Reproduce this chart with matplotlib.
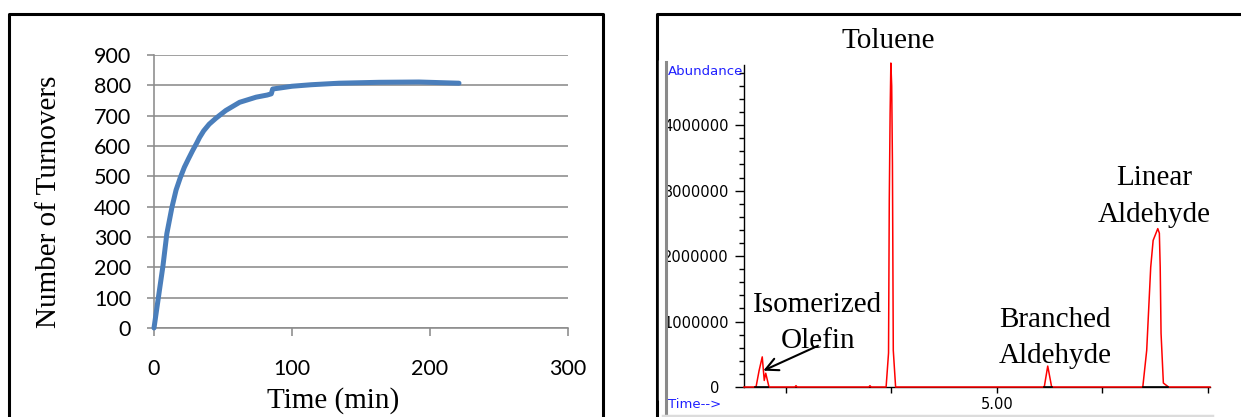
import matplotlib
matplotlib.use("Agg")
import matplotlib.pyplot as plt
from matplotlib.patches import Rectangle
from matplotlib.transforms import ScaledTranslation

# ---------------- data ----------------
# Left: turnovers vs time
time_min = [0, 3, 6.5, 9.3, 13, 16, 19, 22, 25, 28, 31, 33, 36, 40, 45, 52, 62,
            74, 82, 85, 86, 91, 100, 114, 134, 163, 192, 221]
turnovers = [0, 95, 205, 311, 398, 455, 495, 530, 558, 585, 610, 628, 650, 672,
             692, 717, 744, 761, 768, 772, 788, 791, 797, 802, 807, 810, 811, 807]
left_xticks = [0, 100, 200, 300]
left_yticks = [0, 100, 200, 300, 400, 500, 600, 700, 800, 900]

# Right: chromatogram trace
rt = [2.602, 2.716, 2.745, 2.775, 2.794, 2.808, 2.839, 3.085, 3.095, 3.105,
      3.785, 3.796, 3.807, 3.949, 3.972, 3.979, 3.987, 3.994, 4.002, 4.009,
      4.017, 4.039, 5.448, 5.481, 5.518, 6.382, 6.419, 6.442, 6.457, 6.480,
      6.524, 6.539, 6.547, 6.555, 6.577, 6.626, 7.019]
abundance = [0, 0, 0.25e6, 0.46e6, 0.10e6, 0.21e6, 0, 0, 0.02e6, 0,
             0, 0.02e6, 0, 0, 0.52e6, 2.85e6, 4.18e6, 4.95e6, 4.60e6, 3.42e6,
             0.56e6, 0, 0, 0.32e6, 0, 0, 0.56e6, 1.33e6, 1.83e6, 2.24e6,
             2.42e6, 2.35e6, 1.83e6, 0.82e6, 0.06e6, 0, 0]
# integration baselines (start, end)
integ_start = [2.706, 5.448, 6.384]
integ_end = [2.826, 5.520, 6.620]
right_yticks = [0, 1000000, 2000000, 3000000, 4000000]
right_ytick_labels = ["0", "1000000", "2000000", "3000000", "4000000"]
right_xticks = [3, 4, 5, 6, 7]
right_xtick_labels = ["", "", "5.00", "", ""]

# ---------------- figure ----------------
W, H = 1241, 417
fig = plt.figure(figsize=(W / 100, H / 100), dpi=100)

def rect(x0, y0, x1, y1):
    return [x0 / W, 1 - y1 / H, (x1 - x0) / W, (y1 - y0) / H]

PX = 72 / 100  # points per pixel
serif = "Liberation Serif"

# ----- left panel -----
ax1 = fig.add_axes(rect(154, 55, 568, 328))
grid_c = "#8c8c8c"
ax1.plot(time_min, turnovers, color="#4a7ebb", lw=5 * PX, solid_capstyle="round",
         zorder=3, clip_on=False)
ax1.set_xlim(0, 300)
ax1.set_ylim(0, 900)
ax1.set_xticks(left_xticks)
ax1.set_yticks(left_yticks)
ax1.yaxis.grid(True, color=grid_c, lw=1.6 * PX)
ax1.set_axisbelow(True)
for s in ["top", "right"]:
    ax1.spines[s].set_visible(False)
for s in ["left", "bottom"]:
    ax1.spines[s].set_color(grid_c)
    ax1.spines[s].set_linewidth(1.6 * PX)
ax1.tick_params(axis="y", direction="out", length=7 * PX, width=1.6 * PX,
                color=grid_c, pad=16 * PX, labelsize=15.5)
ax1.tick_params(axis="x", direction="out", length=8 * PX, width=1.6 * PX,
                color=grid_c, pad=23 * PX, labelsize=15.5)
for lab in ax1.get_xticklabels() + ax1.get_yticklabels():
    lab.set_fontfamily("Lato")

# ----- right panel -----
ax2 = fig.add_axes(rect(744, 65, 1210, 387))
ax2.plot(rt, abundance, color="#ff0000", lw=1.1, zorder=3, clip_on=False)
for a, b in zip(integ_start, integ_end):
    ax2.plot([a, b], [0, 0], color="black", lw=1.2, zorder=4, clip_on=False)
ax2.set_xlim(2.602, 7.019)
ax2.set_ylim(0, 4.92e6)
ax2.set_yticks(right_yticks)
ax2.set_yticklabels(right_ytick_labels)
ax2.set_yticks([i * 200000 for i in range(25)], minor=True)
ax2.set_xticks(right_xticks)
ax2.set_xticklabels(right_xtick_labels)
for s in ["top", "right"]:
    ax2.spines[s].set_visible(False)
for s in ["left", "bottom"]:
    ax2.spines[s].set_linewidth(1.0)
ax2.tick_params(axis="y", which="major", direction="out", length=9 * PX, width=1.0,
                pad=6 * PX, labelsize=10.5)
ax2.tick_params(axis="y", which="minor", direction="out", length=5 * PX, width=1.0)
ax2.tick_params(axis="x", which="major", direction="out", length=6 * PX, width=1.0,
                pad=4 * PX, labelsize=10.5)
ylabs = ax2.get_yticklabels()
ylabs[0].set_transform(ylabs[0].get_transform() +
                       ScaledTranslation(-10 / 100, 0, fig.dpi_scale_trans))

ax2.annotate("", xy=(2.785, 0.25e6), xytext=(3.303, 0.63e6),
             arrowprops=dict(arrowstyle="->,head_length=0.9,head_width=0.45",
                             color="black", lw=1.5, shrinkA=0, shrinkB=0))

# ----- overlay in pixel coordinates -----
ov = fig.add_axes([0, 0, 1, 1])
ov.set_xlim(0, W)
ov.set_ylim(H, 0)
ov.axis("off")
ov.set_zorder(10)
ov.patch.set_visible(False)

# box borders
ov.plot([9, 9, 603, 603], [H + 2, 14, 14, H + 2], color="black", lw=2.2)
ov.plot([657, 657, W + 2], [H + 2, 14, 14], color="black", lw=2.2)
# hide clipped part of labels and draw window frame
ov.add_patch(Rectangle((659, 60), 6, 340, color="white", zorder=5))
ov.plot([665.5, 665.5], [62, H + 2], color="#8a8a8a", lw=2.2, zorder=6)
ov.plot([663, 1212], [415.5, 415.5], color="#dcdcdc", lw=2.5, zorder=6)

# left labels
ov.text(49, 202, "Number of Turnovers", rotation=90, ha="center", va="center",
        fontsize=21, family=serif)
ov.text(333, 408, "Time (min)", ha="center", va="baseline", fontsize=21, family=serif)

# right labels
ov.text(668, 71, "Abundance", ha="left", va="center", fontsize=9.5,
        color="#2020ff", family="DejaVu Sans")
ov.text(668, 404, "Time-->", ha="left", va="center", fontsize=9.5,
        color="#2020ff", family="DejaVu Sans")
ov.text(888, 48, "Toluene", ha="center", va="baseline", fontsize=21, family=serif)
ov.text(818, 312, "Isomerized", ha="center", va="baseline", fontsize=21, family=serif)
ov.text(818, 348, "Olefin", ha="center", va="baseline", fontsize=21, family=serif)
ov.text(1055, 327, "Branched", ha="center", va="baseline", fontsize=21, family=serif)
ov.text(1055, 363, "Aldehyde", ha="center", va="baseline", fontsize=21, family=serif)
ov.text(1154, 185, "Linear", ha="center", va="baseline", fontsize=21, family=serif)
ov.text(1154, 222, "Aldehyde", ha="center", va="baseline", fontsize=21, family=serif)

fig.savefig("out.png", dpi=100)
